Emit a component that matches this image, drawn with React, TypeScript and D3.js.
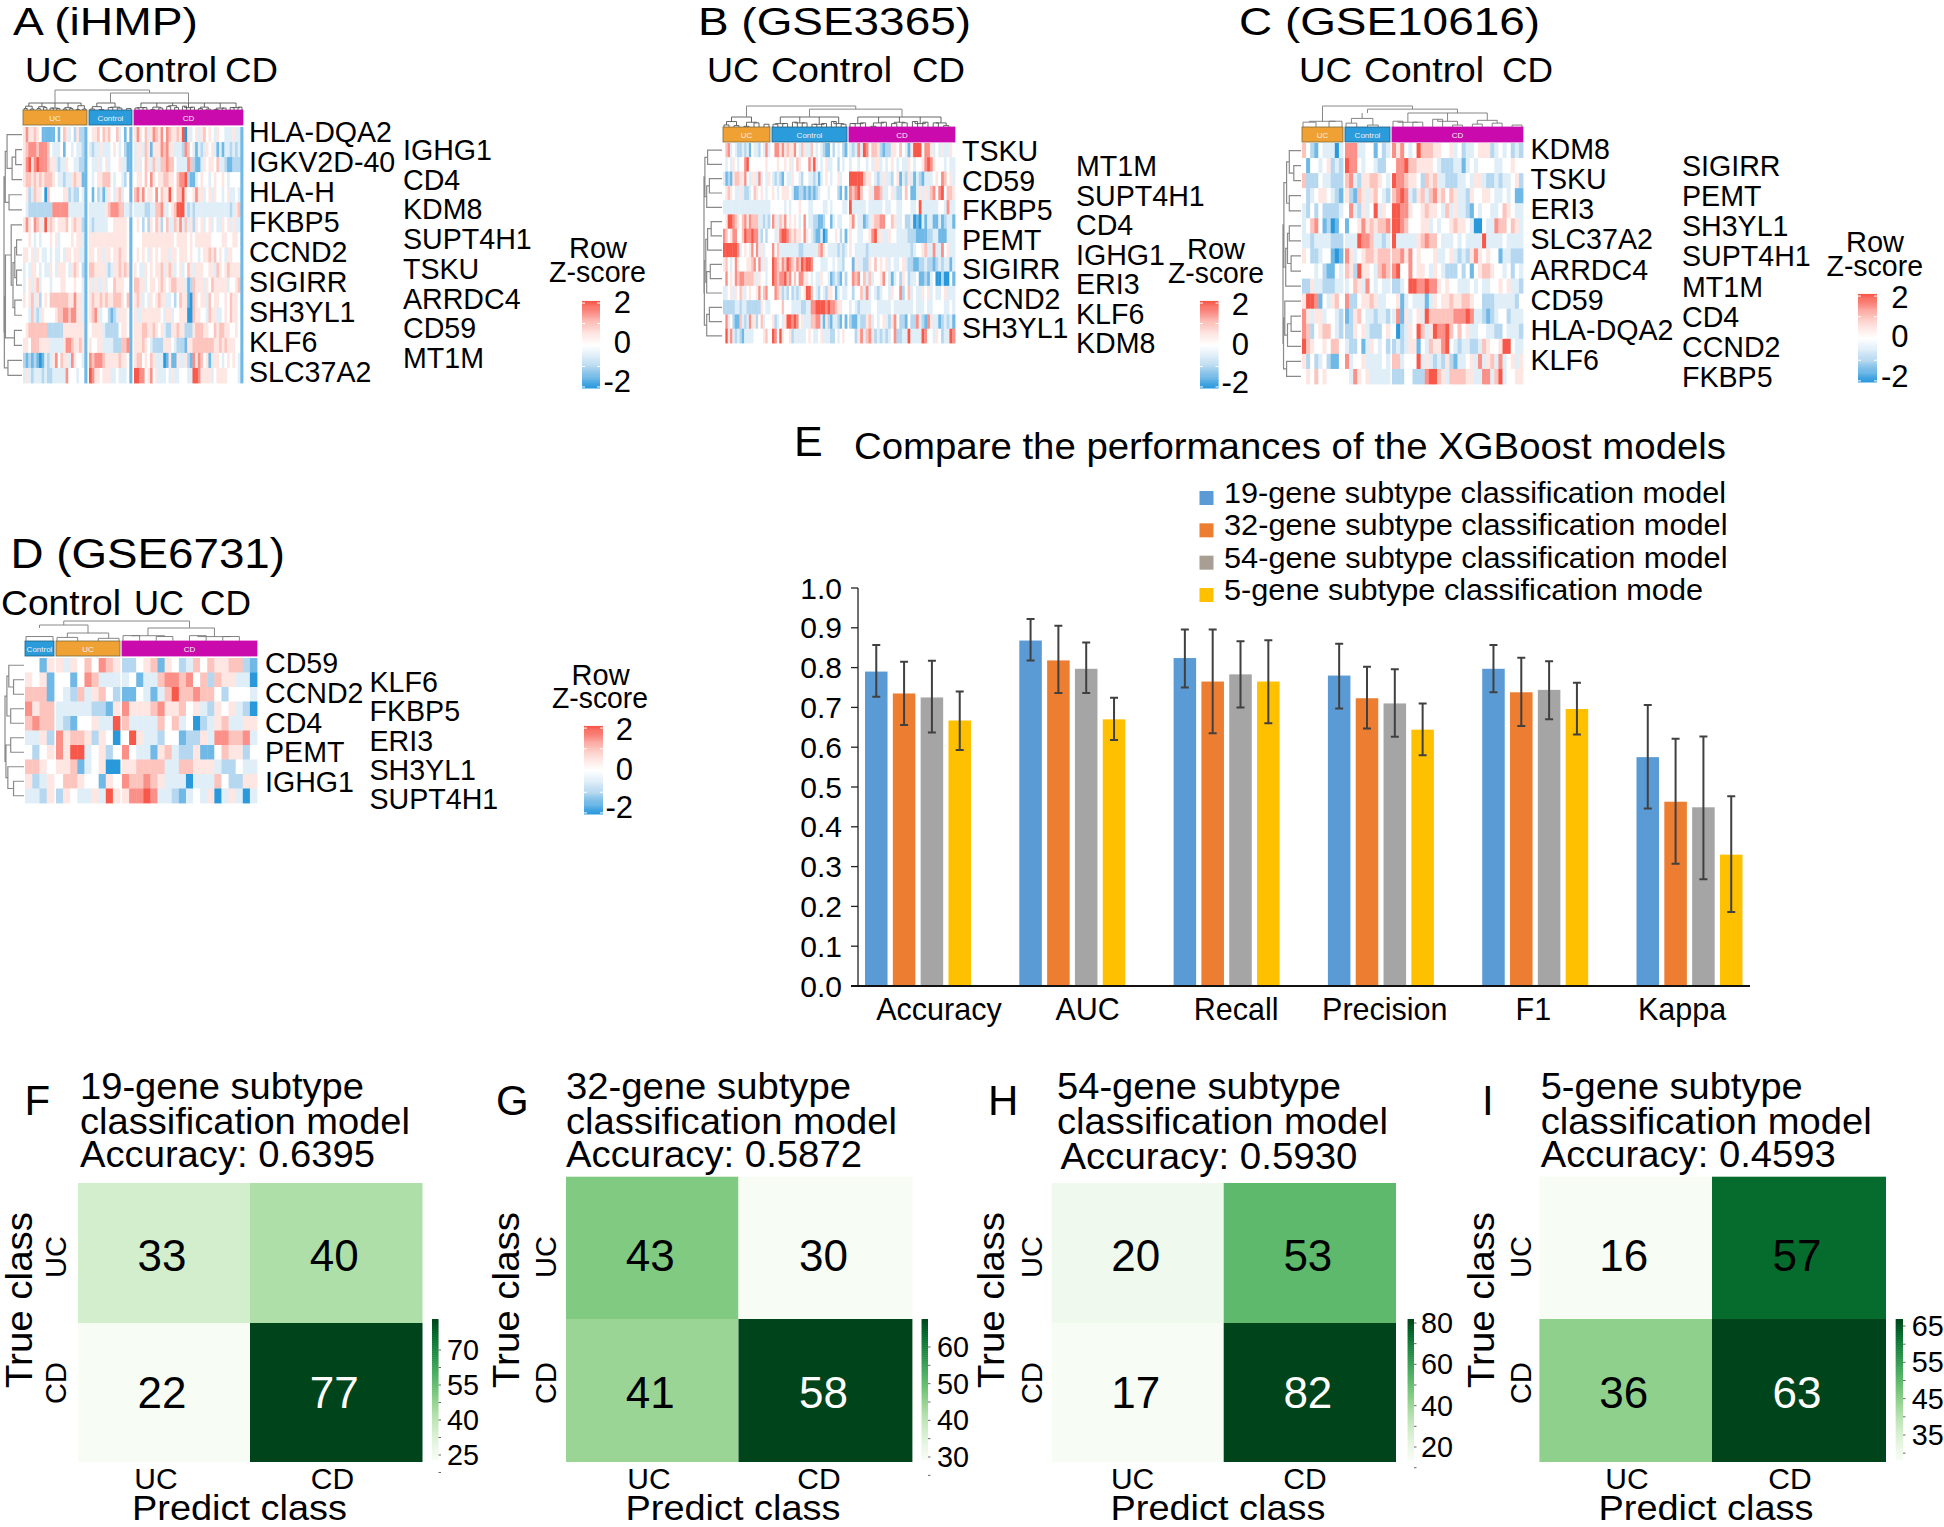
import React from "react";
import * as d3 from "d3";

// ---------- heat-map levels: 0 deep blue, 4 white, 8 deep red; groups separated by a space ----------
const heatRowsA = [
  "575565411111414653425221 4556465644634141 57546357657476556580534535645435443335331",
  "567776777643334144343321 3233533345434211 35536515557675533327643132354531313323231",
  "578578777655323354433221 4335345344453311 35346536536676643333762113545546332112221",
  "566565656665433233565511 4345566643443241 45546475455665546778211345443454454344441",
  "452365540644444552322431 4142313543563441 67574554746558546685445755345354434533431",
  "432222222227777773333331 3333335677766332 33332233667534568883232333333333333323561",
  "575476538565455564565521 3233333445555541 45424254652463365736352545345343354535331",
  "445434344454534444545531 5555555555555541 44455555555555545555454555555444455445541",
  "554535433434334355455331 5545535545565541 45454354545553554555454434556564543554441",
  "343554343354355543565421 6655553235565651 54335454556356534534653555445536545655551",
  "345356344434445544454431 5353353446555441 66553455456545665553126555354655555344561",
  "545635245466666665575531 5655656556665461 56534354565533424655106545536455445465541",
  "443632354444566776775531 5675344212355541 53355555554355344555006554436553345465541",
  "456666666222222555555551 4555532222245541 55566556545322556552225666554465665544541",
  "554666555533333577655651 5445533332226671 55565432222555432221556666666655656555441",
  "212121013235746553754431 7677765555565541 56645465333015115335217576451355434545431",
  "353233323223333374443441 8755455533433341 88774574533343533444338875555345555444431",
];
const heatRowsB = [
  "46734322323143324373 4775756557436533643432114243421 32373874665212255464315888477534353354",
  "43435434478444444454 4454454534654447583434533442434 34434434355343454343354344578754443433",
  "31215665574355373435 3232143354432443323134543445344 88888655432353324513253132133345476453",
  "45654335322346545434 5434555431122121212344434442141 76786445377633453224641135353674784665",
  "33333333333333333333 4444434344454443344443343444433 83333343333343344334443348333333443733",
  "45887654675766633232 7536574545434743322112441343344 57433123566774465334223010313311312331",
  "76457744687787732424 4357887656554754321130144454241 54433445785533544333322211112233111333",
  "88888873454574735344 7463333333322333333675433332323 54333323333333333333332344563373374533",
  "56434754445567473534 8765768765768788744433344343324 41533225464545343345322112232212323313",
  "47454767766665354434 8767786746477554343354431232142 47674636344574313425423341121340020041",
  "33453546534544574674 4765232423234588643243255413433 42446373432344354472463433545343345333",
  "22222332332222225433 4444644433332233778888787765544 34323333443333343333333433343344443343",
  "47542116323755246344 5234358878745333667731521332141 21132256343453257422142273217533123231",
  "48573232133334444564 8748544523333345433453332243454 44257367523232347223383333874435423387",
];
const heatRowsC = [
  "6421433303 77733441423 75743486665544534233455523434232",
  "4144345232 87743443224 47786655554322233134344443344544",
  "6222433222 67325566543 87765542656332223343553223233452",
  "4234554321 52165356432 67873256367564653325445543343411",
  "3242422223 47325348354 88775445655436353321434433465433",
  "3467412014 14457565667 88764445534344565543004337664653",
  "3323333222 33387763323 83333356766433343433338333343333",
  "5422344101 75345665666 66757454445334532325754544133222",
  "4443421143 65285543676 78447455435432224241456654434243",
  "2253322233 34653743433 22348877877545443334343344545332",
  "5887143564 72245565334 45134333135455655665442223333324",
  "7535534432 12564332332 37153453866666677787332123442333",
  "7624566432 22545322245 40235486358778646453344332243332",
  "8654454664 32241354342 23235514365578432332236544588433",
  "5242342114 73445333343 66344483532325213345373563734535",
  "4546454444 43754533333 22244222788653666655337736834455",
];
const heatRowsD = [
  "4415 535464765 2245615423646556621",
  "5451 441476333 3413367767462655330",
  "6661 432635642 1143136866766424443",
  "7566 333332215 7555675564532545320",
  "6766 321445338 6333364634023563355",
  "3352 756652540 4853324412253776673",
  "4245 758834524 7433156322511465524",
  "6654 556134500 5566663366555322433",
  "5235 466544154 7667653330333642255",
  "3325 254335385 5778733213435035303",
];

// ---------- clustering trees [height, left, right], leaves are row or group indices ----------
const rowTreeA = [1,[.93,[.83,0,[.55,[.35,1,2],3]],[.72,4,5]],[.98,[.92,[.6,6,[.5,[.4,[.3,7,8],[.3,9,10]],[.4,11,12]]],[.42,13,14]],[.78,15,16]]];
const rowTreeB = [1,[.95,[.8,0,1],[.85,[.7,2,3],4]],[.98,[.9,[.8,[.6,5,6],7],[.85,[.65,8,9],10]],[.85,[.7,11,12],13]]];
const rowTreeC = [1,[.95,[.8,[.65,0,[.4,1,2]],[.65,3,4]],[.85,[.75,[.65,5,6],[.55,7,8]],9]],[.97,[.9,10,[.75,[.55,11,12],13]],[.8,14,15]]];
const rowTreeD = [1,[.9,[.8,0,[.55,1,2]],[.7,3,4]],[.95,[.7,5,6],[.85,7,[.55,8,9]]]];
const colTreeA = [1,0,[.85,1,2]];
const colTreeB = [1,0,[.85,1,2]];
const colTreeC = [1,0,[.85,1,2]];
const colTreeD = [1,[.8,0,1],2];

// bracket heights of neighbouring samples, per group
const combA = ["35243152463425361425", "2413524136", "4253164273518264352716425361"];
const combB = ["3524136241", "4253716243518243", "526314725361827364253"];
const combC = ["5362", "46253", "62538425364725"];
const combD = ["53", "4635", "635262536"];

// ---------- gene labels ----------
const genesA1 = ["HLA-DQA2","IGKV2D-40","HLA-H","FKBP5","CCND2","SIGIRR","SH3YL1","KLF6","SLC37A2"];
const genesA2 = ["IGHG1","CD4","KDM8","SUPT4H1","TSKU","ARRDC4","CD59","MT1M"];
const genesB1 = ["TSKU","CD59","FKBP5","PEMT","SIGIRR","CCND2","SH3YL1"];
const genesB2 = ["MT1M","SUPT4H1","CD4","IGHG1","ERI3","KLF6","KDM8"];
const genesC1 = ["KDM8","TSKU","ERI3","SLC37A2","ARRDC4","CD59","HLA-DQA2","KLF6"];
const genesC2 = ["SIGIRR","PEMT","SH3YL1","SUPT4H1","MT1M","CD4","CCND2","FKBP5"];
const genesD1 = ["CD59","CCND2","CD4","PEMT","IGHG1"];
const genesD2 = ["KLF6","FKBP5","ERI3","SH3YL1","SUPT4H1"];
const groupsABC = ["UC","Control","CD"];
const groupsD = ["Control","UC","CD"];

// ---------- panel E ----------
const metrics = ["Accuracy","AUC","Recall","Precision","F1","Kappa"];
const models = ["19-gene subtype classification model","32-gene subtype classification model","54-gene subtype classification model","5-gene subtype classification mode"];
const scores19 = [.79,.868,.824,.78,.797,.575];
const scores32 = [.735,.818,.765,.723,.738,.463];
const scores54 = [.725,.797,.783,.71,.744,.449];
const scores5 = [.667,.67,.765,.644,.696,.33];
const upper19 = [.857,.922,.896,.86,.857,.706];
const upper32 = [.815,.905,.896,.802,.825,.621];
const upper54 = [.817,.863,.866,.796,.816,.627];
const upper5 = [.74,.724,.869,.71,.762,.477];
const lower19 = [.727,.818,.75,.697,.738,.446];
const lower32 = [.656,.736,.635,.647,.653,.307];
const lower54 = [.637,.736,.70,.626,.67,.268];
const lower5 = [.593,.618,.66,.58,.632,.186];
const barColors = ["#5b9bd5","#ed7d31","#a5a5a5","#ffc000"];
const legendColors = ["#5b9bd5","#ed7d31","#a89e94","#ffc000"];

// ---------- panels F-I ----------
const cmClasses = ["UC","CD"];
const cmF = [[33,40],[22,77]];
const cmG = [[43,30],[41,58]];
const cmH = [[20,53],[17,82]];
const cmI = [[16,57],[36,63]];
const tickF = [70,55,40,25];
const tickG = [60,50,40,30];
const tickH = [80,60,40,20];
const tickI = [65,55,45,35];

const font = "'Liberation Sans', Arial, sans-serif";
const T = ({x,y,fs,w,anchor="start",rot,fill="#000",children}: any) => (
  <text transform={`translate(${x},${y})${rot ? ` rotate(${rot})` : ""}`} fontSize={fs} textAnchor={anchor} fill={fill}
    fontFamily={font} {...(w ? {textLength:w, lengthAdjust:"spacingAndGlyphs"} : {})}>{children}</text>
);

const zColor = d3.scaleLinear<string>().domain([0,1,2,3,4,5,6,7,8])
  .range(["#2b99dc","#6fb8e6","#b5d8f0","#e0eef8","#ffffff","#fee6e3","#fcc4bd","#fa9088","#f8584a"])
  .interpolate(d3.interpolateRgb);
const groupFill: any = {UC:"#f0a133", Control:"#2a9bdb", CD:"#cb0aad"};
const groupEdge: any = {UC:"#7a6a3a", Control:"#1f5f80", CD:"#cb0aad"};

function treePath(node: any, leafPos: (i:number)=>number, hPos: (h:number)=>number, leafH: number, horiz: boolean, out: string[]) {
  if (typeof node === "number") return {p: leafPos(node), h: leafH};
  const [h,a,b] = node;
  const l = treePath(a,leafPos,hPos,leafH,horiz,out), r = treePath(b,leafPos,hPos,leafH,horiz,out);
  const pts = [[hPos(l.h),l.p],[hPos(h),l.p],[hPos(h),r.p],[hPos(r.h),r.p]];
  out.push(d3.line()(pts.map(q => horiz ? [q[0],q[1]] : [q[1],q[0]]) as any) as string);
  return {p:(l.p+r.p)/2, h};
}

function Comb({x0,x1,base,top,heights,stroke,sw}: any) {
  const xs = d3.scalePoint<number>().domain(d3.range(heights.length)).range([x0+1,x1-1]);
  const maxH = base - top;
  const hy = (c: string) => base - (+c/9)*maxH*0.62;
  const paths: string[] = [];
  const mids: number[] = [];
  const chars = heights.split("");
  for (let i=0;i+1<chars.length;i+=2) {
    const a = xs(i)!, b = xs(i+1)!, y = hy(chars[i]);
    paths.push(`M${a},${base}V${y}H${b}V${base}`);
    mids.push((a+b)/2);
  }
  const mx: number[] = [];
  for (let i=0;i+1<mids.length;i+=2) {
    const y = hy(chars[i+1]) - maxH*0.2;
    paths.push(`M${mids[i]},${hy(chars[i*2])}V${y}H${mids[i+1]}V${hy(chars[i*2+2])}`);
    mx.push((mids[i]+mids[i+1])/2, y);
  }
  const tops = mx.filter((_,i)=>i%2===0);
  if (tops.length) {
    paths.push(`M${tops[0]},${top}H${tops[tops.length-1]}`);
    tops.forEach((t,i)=>paths.push(`M${t},${top}V${mx[i*2+1]}`));
  }
  return <path d={paths.join("")} fill="none" stroke={stroke} strokeWidth={sw}/>;
}

function Heat({rows,groups,gx,x0,x1,y0,y1,annY,topY,leftX,rowTree,colTree,combs,combStroke,combSw,combTop}: any) {
  const yBand = d3.scaleBand<number>().domain(d3.range(rows.length)).range([y0,y1]);
  const split = rows.map((r: string)=>r.split(" "));
  const rowPaths: string[] = [];
  const hx = d3.scaleLinear().domain([0,1]).range([x0-1,leftX]);
  treePath(rowTree,(i)=>yBand(i)!+yBand.bandwidth()/2,hx,0,true,rowPaths);
  const colPaths: string[] = [];
  const hy = d3.scaleLinear().domain([0,1]).range([annY[0],topY]);
  const leafH = hy.invert(combTop);
  treePath(colTree,(g)=>(gx[g][0]+gx[g][1])/2,hy,leafH,false,colPaths);
  return (
    <g>
      <g filter="url(#soft)">
        {split.map((parts: string[],r: number)=>parts.map((p,g)=>{
          const band = d3.scaleBand<number>().domain(d3.range(p.length)).range(gx[g]);
          return p.split("").map((c,i)=>(
            <rect key={`${r}-${g}-${i}`} x={band(i)} y={yBand(r)} width={band.bandwidth()+0.4} height={yBand.bandwidth()+0.4} fill={zColor(+c)}/>
          ));
        }))}
      </g>
      {groups.map((name: string,g: number)=>(
        <g key={name}>
          <rect x={gx[g][0]} y={annY[0]} width={gx[g][1]-gx[g][0]} height={annY[1]-annY[0]} fill={groupFill[name]} stroke={groupEdge[name]} strokeWidth={0.8}/>
          <T x={(gx[g][0]+gx[g][1])/2} y={(annY[0]+annY[1])/2+3} fs={8} anchor="middle" fill="#f0f0f0">{name}</T>
          <Comb x0={gx[g][0]} x1={gx[g][1]} base={annY[0]} top={combTop} heights={combs[g]} stroke={combStroke} sw={combSw}/>
        </g>
      ))}
      <path d={colPaths.join("")} fill="none" stroke="#888" strokeWidth={1}/>
      <path d={rowPaths.join("")} fill="none" stroke="#8a8a8a" strokeWidth={1.2}/>
    </g>
  );
}

function GeneCol({genes,x,y0,y1}: any) {
  const y = d3.scalePoint<string>().domain(genes).range([y0,y1]);
  return <>{genes.map((g: string)=><T key={g} x={x} y={y(g)} fs={28.6}>{g}</T>)}</>;
}

function ZLegend({cx,zx0,zx1,y1,y2,bx0,bx1,by0,by1,tx,ty}: any) {
  const stops = d3.range(0,8.01,0.1);
  const sy = d3.scaleLinear().domain([0,8]).range([by1,by0]);
  const labs = ["2","0","-2"];
  return (
    <g>
      <T x={cx} y={y1} fs={29} anchor="middle">Row</T>
      <T x={(zx0+zx1)/2} y={y2} fs={29} anchor="middle" w={zx1-zx0}>Z-score</T>
      {stops.map((s,i)=><rect key={i} x={bx0} y={sy(s+0.1)} width={bx1-bx0} height={sy(s)-sy(s+0.1)+0.5} fill={zColor(s)}/>)}
      {[0.1,2,4,6,7.9].map(s=>(
        <g key={s} stroke="#fff" strokeWidth={1}>
          <line x1={bx0} x2={bx0+3} y1={sy(s)} y2={sy(s)}/>
          <line x1={bx1-3} x2={bx1} y1={sy(s)} y2={sy(s)}/>
        </g>
      ))}
      {labs.map((l,i)=><T key={l} x={tx} y={ty[i]} fs={31} anchor="end">{l}</T>)}
    </g>
  );
}

function BarsE() {
  const y = d3.scaleLinear().domain([0,1]).range([986,588]);
  const gx = d3.scaleBand<string>().domain(metrics).range([865,865+154.3*6]);
  const mx = d3.scaleBand<number>().domain(d3.range(4)).range([0,106]).paddingInner(0.19);
  const lab = d3.scalePoint<string>().domain(metrics).range([939,1682]);
  const scores = [scores19,scores32,scores54,scores5];
  const upper = [upper19,upper32,upper54,upper5];
  const lower = [lower19,lower32,lower54,lower5];
  const legendY = d3.scalePoint<string>().domain(models).range([503,600]);
  const legendEnd = [1726,1727.5,1727.5,1703];
  return (
    <g>
      <T x={794} y={456} fs={43}>E</T>
      <T x={854} y={459} fs={36} w={872}>Compare the performances of the XGBoost models</T>
      {models.map((m,i)=>(
        <g key={m}>
          <rect x={1199.5} y={legendY(m)!-12} width={14} height={14} fill={legendColors[i]}/>
          <T x={1224} y={legendY(m)} fs={30} w={legendEnd[i]-1224}>{m}</T>
        </g>
      ))}
      {metrics.map((c,gi)=>scores.map((s,i)=>{
        const x = gx(c)!+mx(i)!, w = mx.bandwidth(), mid = x+w/2;
        return (
          <g key={c+i}>
            <rect x={x} y={y(s[gi])} width={w} height={y(0)-y(s[gi])} fill={barColors[i]}/>
            <path d={`M${mid},${y(lower[i][gi])}V${y(upper[i][gi])}M${mid-4},${y(lower[i][gi])}h8M${mid-4},${y(upper[i][gi])}h8`} stroke="#404040" strokeWidth={2} fill="none"/>
          </g>
        );
      }))}
      <line x1={858} x2={858} y1={y(1)} y2={y(0)} stroke="#222" strokeWidth={1.3}/>
      {y.ticks(10).map(t=>(
        <g key={t}>
          <line x1={851} x2={858} y1={y(t)} y2={y(t)} stroke="#222" strokeWidth={1.3}/>
          <T x={842} y={y(t)+10.5} fs={30} anchor="end">{d3.format(".1f")(t)}</T>
        </g>
      ))}
      <line x1={851} x2={1750} y1={y(0)} y2={y(0)} stroke="#111" strokeWidth={2.2}/>
      {metrics.map(c=><T key={c} x={lab(c)} y={1020} fs={30.5} anchor="middle">{c}</T>)}
    </g>
  );
}

function Confusion({letter,letterX,titleX,title,titleW,acc,accX,accW,accY,m,hx,hy,bar,ticks,tickY,tickX,trueX,classX,xTicks,predX}: any) {
  const flat = m.flat();
  const color = d3.scaleSequential(d3.interpolateGreens).domain(d3.extent(flat) as any);
  const textY = d3.scaleBand<string>().domain(cmClasses).range([1183,1462]);
  const tickScale = d3.scaleLinear().domain([ticks[0],ticks[3]]).range(tickY);
  const barY = d3.scaleLinear().domain([0,1]).range([1460,1319]);
  const [mn,mx] = d3.extent(flat) as any;
  const step = (ticks[0]-ticks[1])/2;
  const minor = d3.range(ticks[3]-step,ticks[0]+step/2,step);
  const rowYs = [[hy[0],hy[1]],[hy[1],hy[2]]];
  const colXs = [[hx[0],hx[1]],[hx[1],hx[2]]];
  return (
    <g>
      <T x={letterX} y={1115} fs={42}>{letter}</T>
      <T x={titleX} y={1099} fs={36} w={titleW[0]}>{title}</T>
      <T x={titleX} y={1134} fs={36} w={titleW[1]}>classification model</T>
      <T x={accX} y={accY} fs={36} w={accW}>{acc}</T>
      {m.map((row: number[],r: number)=>row.map((v,c)=>(
        <g key={`${r}${c}`}>
          <rect x={colXs[c][0]} y={rowYs[r][0]} width={colXs[c][1]-colXs[c][0]} height={rowYs[r][1]-rowYs[r][0]} fill={color(v)}/>
          <T x={(colXs[c][0]+colXs[c][1])/2-2} y={textY(cmClasses[r])!+textY.bandwidth()/2+16+(r===0?2:0)} fs={44} anchor="middle" fill={(v-mn)/(mx-mn)>0.9?"#fff":"#000"}>{v}</T>
        </g>
      )))}
      {d3.range(0,1,1/70).map((t,i)=>(
        <rect key={i} x={bar[0]} y={barY(t+1/70)} width={bar[1]-bar[0]} height={barY(t)-barY(t+1/70)+0.5} fill={color(mn+t*(mx-mn))}/>
      ))}
      {minor.map((t: number)=><line key={t} x1={bar[1]} x2={bar[1]+2.5} y1={tickScale(t)} y2={tickScale(t)} stroke="#666" strokeWidth={1}/>)}
      {ticks.map((t: number)=><T key={t} x={tickX} y={tickScale(t)+10} fs={29} w={32}>{t}</T>)}
      <T x={trueX} y={1300} fs={36} anchor="middle" rot={-90} w={176}>True class</T>
      {cmClasses.map((c,i)=><T key={c} x={classX} y={[1257,1383][i]} fs={29} anchor="middle" rot={-90}>{c}</T>)}
      {cmClasses.map((c,i)=><T key={c+"x"} x={xTicks[i]} y={1489} fs={30} anchor="middle">{c}</T>)}
      <T x={predX} y={1520} fs={35} anchor="middle" w={215}>Predict class</T>
    </g>
  );
}

export default function App() {
  return (
    <svg width={1944} height={1527} viewBox="0 0 1944 1527" style={{position:"absolute",left:0,top:0,background:"#fff",display:"block"}}>
      <defs>
        <filter id="soft" x="-2%" y="-2%" width="104%" height="104%"><feGaussianBlur stdDeviation="0.55"/></filter>
      </defs>

      {/* A */}
      <T x={13} y={34.5} fs={38} w={185}>A (iHMP)</T>
      <T x={25} y={82} fs={35} w={53}>UC</T>
      <T x={97} y={82} fs={35} w={120}>Control</T>
      <T x={225} y={82} fs={35} w={53}>CD</T>
      <Heat rows={heatRowsA} groups={groupsABC} gx={[[23,87],[89,132],[134,243]]} x0={23} x1={243} y0={127} y1={383}
        annY={[110,125]} topY={90} leftX={4} rowTree={rowTreeA} colTree={colTreeA} combs={combA} combStroke="#555" combSw={0.9} combTop={103}/>
      <GeneCol genes={genesA1} x={249} y0={142} y1={382}/>
      <GeneCol genes={genesA2} x={403} y0={160} y1={368}/>
      <ZLegend cx={598} zx0={549} zx1={646} y1={258} y2={282} bx0={582} bx1={600} by0={302} by1={388} tx={631} ty={[313,353,392]}/>

      {/* B */}
      <T x={698} y={34.5} fs={38} w={273}>B (GSE3365)</T>
      <T x={707} y={82} fs={35} w={52}>UC</T>
      <T x={771} y={82} fs={35} w={121}>Control</T>
      <T x={912} y={82} fs={35} w={53}>CD</T>
      <Heat rows={heatRowsB} groups={groupsABC} gx={[[723,770],[772,847],[849,955]]} x0={723} x1={955} y0={143} y1={343}
        annY={[127,142]} topY={106} leftX={704} rowTree={rowTreeB} colTree={colTreeB} combs={combB} combStroke="#555" combSw={0.9} combTop={117}/>
      <GeneCol genes={genesB1} x={962} y0={161} y1={338}/>
      <GeneCol genes={genesB2} x={1076} y0={176} y1={353}/>
      <ZLegend cx={1216} zx0={1168} zx1={1264} y1={259} y2={283} bx0={1200} bx1={1218.5} by0={302} by1={388} tx={1249} ty={[315,355,393]}/>

      {/* C */}
      <T x={1239} y={34.5} fs={38} w={301}>C (GSE10616)</T>
      <T x={1299} y={82} fs={35} w={53}>UC</T>
      <T x={1364} y={82} fs={35} w={120}>Control</T>
      <T x={1502} y={82} fs={35} w={51}>CD</T>
      <Heat rows={heatRowsC} groups={groupsABC} gx={[[1302,1343],[1345,1390],[1392,1523]]} x0={1302} x1={1523} y0={143} y1={384}
        annY={[127,142]} topY={106} leftX={1283} rowTree={rowTreeC} colTree={colTreeC} combs={combC} combStroke="#777" combSw={0.9} combTop={113}/>
      <GeneCol genes={genesC1} x={1530.5} y0={159} y1={370}/>
      <GeneCol genes={genesC2} x={1682} y0={176} y1={387}/>
      <ZLegend cx={1875} zx0={1826.5} zx1={1923} y1={252} y2={276} bx0={1858} bx1={1877} by0={295} by1={382} tx={1908.5} ty={[308,347,387]}/>

      {/* D */}
      <T x={10.5} y={568} fs={42} w={274.5}>D (GSE6731)</T>
      <T x={1} y={615} fs={35} w={120}>Control</T>
      <T x={134} y={615} fs={35} w={50}>UC</T>
      <T x={200} y={615} fs={35} w={51}>CD</T>
      <Heat rows={heatRowsD} groups={groupsD} gx={[[25,54],[56,120],[122,257]]} x0={25} x1={257} y0={658} y1={803}
        annY={[641,656]} topY={621} leftX={5} rowTree={rowTreeD} colTree={colTreeD} combs={combD} combStroke="#777" combSw={0.9} combTop={628}/>
      <GeneCol genes={genesD1} x={265} y0={673} y1={792}/>
      <GeneCol genes={genesD2} x={369.5} y0={692} y1={809}/>
      <ZLegend cx={600.6} zx0={552} zx1={648} y1={685} y2={708} bx0={584} bx1={603} by0={727} by1={814} tx={633} ty={[740,780,818]}/>

      <BarsE/>

      <Confusion letter="F" letterX={24.5} titleX={80} title="19-gene subtype" titleW={[284,330]} acc="Accuracy: 0.6395" accX={80} accW={295} accY={1167}
        m={cmF} hx={[78,250,422.5]} hy={[1183,1323,1462]} bar={[432,438.5]} ticks={tickF} tickY={[1350,1455]} tickX={447}
        trueX={32} classX={66} xTicks={[156,332.5]} predX={239.5}/>
      <Confusion letter="G" letterX={496} titleX={566} title="32-gene subtype" titleW={[285,331]} acc="Accuracy: 0.5872" accX={566} accW={296} accY={1167}
        m={cmG} hx={[566,738.5,912.4]} hy={[1176.7,1319,1462]} bar={[921.6,928]} ticks={tickG} tickY={[1347,1457]} tickX={937}
        trueX={519} classX={556} xTicks={[649,819]} predX={733}/>
      <Confusion letter="H" letterX={988} titleX={1057} title="54-gene subtype" titleW={[284,331]} acc="Accuracy: 0.5930" accX={1060.4} accW={297} accY={1169}
        m={cmH} hx={[1051.6,1223.7,1396]} hy={[1183,1323,1462]} bar={[1407.6,1414]} ticks={tickH} tickY={[1323,1447]} tickX={1421}
        trueX={1004} classX={1041.6} xTicks={[1132.6,1305]} predX={1218}/>
      <Confusion letter="I" letterX={1482} titleX={1540.7} title="5-gene subtype" titleW={[262,331]} acc="Accuracy: 0.4593" accX={1540.7} accW={295} accY={1167}
        m={cmI} hx={[1539.4,1712,1886]} hy={[1176.7,1319,1462]} bar={[1895.7,1903]} ticks={tickI} tickY={[1326,1435]} tickX={1911.7}
        trueX={1493.6} classX={1531} xTicks={[1627,1790]} predX={1706}/>
    </svg>
  );
}
